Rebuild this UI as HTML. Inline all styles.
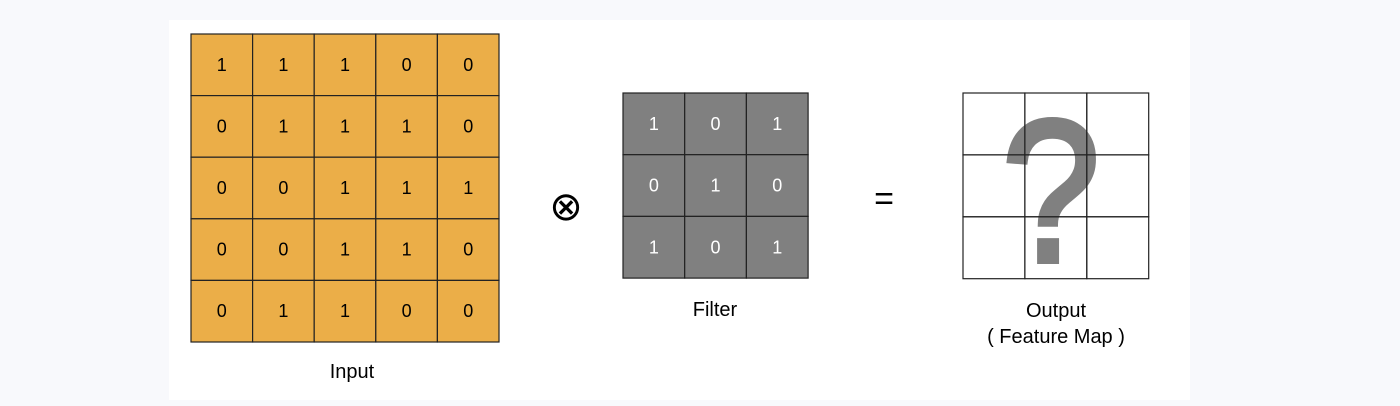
<!DOCTYPE html>
<html><head><meta charset="utf-8"><style>
html,body{margin:0;padding:0;background:#f8f9fc;}
svg{display:block;font-family:"Liberation Sans",Arial,sans-serif;}
</style></head><body>
<svg width="1400" height="406" viewBox="0 0 1400 406">
<rect x="169" y="20" width="1021" height="380" fill="#ffffff"/>
<g id="input"></g>
<g id="filter"></g>
<text x="566" y="220" font-size="40" text-anchor="middle" fill="#000">⊗</text>
<text x="884" y="210" font-size="34" text-anchor="middle" fill="#000">=</text>
<text x="1051" y="261" font-size="202" text-anchor="middle" fill="#808080" stroke="#808080" stroke-width="6" transform="translate(1051,0) scale(0.87,1) translate(-1051,0)">?</text>
<g id="output"></g>
<text x="352" y="378" font-size="20" text-anchor="middle" fill="#000">Input</text>
<text x="715" y="316" font-size="20" text-anchor="middle" fill="#000">Filter</text>
<text x="1056" y="317" font-size="20" text-anchor="middle" fill="#000">Output</text>
<text x="1056" y="343" font-size="20" text-anchor="middle" fill="#000">( Feature Map )</text>
</svg>
<script>
const inputValues=[[1,1,1,0,0],[0,1,1,1,0],[0,0,1,1,1],[0,0,1,1,0],[0,1,1,0,0]];
const filterValues=[[1,0,1],[0,1,0],[1,0,1]];
const outputValues=[[null,null,null],[null,null,null],[null,null,null]];
const NS="http://www.w3.org/2000/svg";
function grid(id,vals,x0,y0,cell,fill,txt){
  const g=document.getElementById(id);
  vals.forEach((row,r)=>row.forEach((v,c)=>{
    const rc=document.createElementNS(NS,'rect');
    rc.setAttribute('x',x0+c*cell);rc.setAttribute('y',y0+r*cell);
    rc.setAttribute('width',cell);rc.setAttribute('height',cell);
    rc.setAttribute('fill',fill);rc.setAttribute('stroke','#222');rc.setAttribute('stroke-width','1.2');
    
    
    g.appendChild(rc);
    if(v!==null){
      const t=document.createElementNS(NS,'text');
      t.setAttribute('x',x0+c*cell+cell/2);t.setAttribute('y',y0+r*cell+cell/2+6);
      t.setAttribute('text-anchor','middle');t.setAttribute('font-size','18');t.setAttribute('fill',txt);
      t.textContent=v;
      
      
      g.appendChild(t);
    }
  }));
}
grid('input',inputValues,191,34,61.6,'#ebae48','#000');
grid('filter',filterValues,623,93,61.7,'#808080','#fff');
grid('output',outputValues,963,93,61.9,'none','#000');
</script>
</body></html>
